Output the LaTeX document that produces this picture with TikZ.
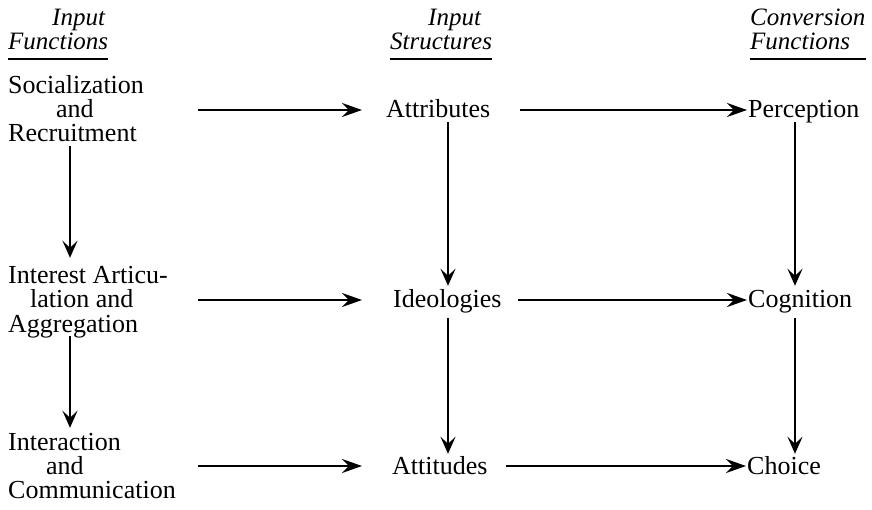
\documentclass[tikz,border=0pt]{standalone}
\usepackage{fontspec}
\setmainfont{Liberation Serif}
\usetikzlibrary{arrows.meta}
\begin{document}
\begin{tikzpicture}[x=1pt,y=-1pt,
  txt/.style={inner sep=0pt,anchor=base west,text height=20pt,text depth=4pt,font=\fontsize{26}{24}\selectfont},
  hdr/.style={txt,font=\fontsize{25}{24}\selectfont\itshape},
  harr/.style={line width=2.3pt,-{Stealth[length=20pt,width=14pt,inset=7pt]}},
  varr/.style={line width=2.3pt,-{Stealth[length=17pt,width=15pt,inset=7pt]}},
  ul/.style={line width=1.6pt}]
\fill[white] (0,0) rectangle (872,510);
\useasboundingbox (0,0) rectangle (872,510);
% headers
\node[hdr] (h1a) at (52,26) {Input};
\node[hdr] (h1b) at (8,50) {Functions};
\node[hdr] (h2a) at (428,26) {Input};
\node[hdr] (h2b) at (390,50) {Structures};
\node[hdr] (h3a) at (750,26) {Conversion};
\node[hdr] (h3b) at (750,50) {Functions};
\draw[ul] ([yshift=-5pt]h1b.south west) -- ([yshift=-5pt]h1b.south east);
\draw[ul] ([yshift=-5pt]h2b.south west) -- ([yshift=-5pt]h2b.south east);
\draw[ul] ([yshift=-5pt]h3b.south west) -- ([yshift=-5pt]h3b.south west -| h3a.east);
% column 1
\node[txt] (s1a) at (8,94) {Socialization};
\node[txt] (s1b) at (56,118) {and};
\node[txt] (s1c) at (8,142) {Recruitment};
\node[txt] (s2a) at (8,284) {Interest Articu-};
\node[txt] (s2b) at (30,308) {lation and};
\node[txt] (s2c) at (8,332) {Aggregation};
\node[txt] (s3a) at (8,450) {Interaction};
\node[txt] (s3b) at (46,474) {and};
\node[txt] (s3c) at (8,498) {Communication};
% column 2
\node[txt] (attr) at (386,118) {Attributes};
\node[txt] (ideo) at (393,308) {Ideologies};
\node[txt] (atti) at (392,474) {Attitudes};
% column 3
\node[txt] (perc) at (748,118) {Perception};
\node[txt] (cogn) at (748,308) {Cognition};
\node[txt] (choi) at (747,474) {Choice};
% x positions of vertical arrows
\coordinate (v1) at (70,0);
\coordinate (v2) at (448,0);
\coordinate (v3) at (795,0);
% tails of horizontal arrows
\coordinate (t1) at (198,0);
\coordinate (t2) at (520,0);
% horizontal arrows col1 -> col2
\draw[harr,shorten >=24pt] (s1b.center -| t1) -- (attr.west);
\draw[harr,shorten >=31pt] (s2b.center -| t1) -- (ideo.west);
\draw[harr,shorten >=30pt] (s3b.center -| t1) -- (atti.west);
% horizontal arrows col2 -> col3
\draw[harr,shorten >=1pt] (attr.east -| t2) -- (perc.west);
\draw[harr,shorten <=-2pt,shorten >=1pt] (ideo.east -| t2) -- (cogn.west);
\draw[harr,shorten <=-14pt,shorten >=1pt] (atti.east -| t2) -- (choi.west);
% vertical arrows
\draw[varr,shorten >=6pt] (s1c.south -| v1) -- (s2a.north -| v1);
\draw[varr,shorten >=2pt] (s2c.south -| v1) -- (s3a.north -| v1);
\draw[varr,shorten >=2pt] (attr.south -| v2) -- (ideo.north -| v2);
\draw[varr,shorten <=6pt] (ideo.south -| v2) -- (atti.north -| v2);
\draw[varr,shorten >=2pt] (perc.south -| v3) -- (cogn.north -| v3);
\draw[varr,shorten <=6pt] (cogn.south -| v3) -- (choi.north -| v3);
\end{tikzpicture}
\end{document}
